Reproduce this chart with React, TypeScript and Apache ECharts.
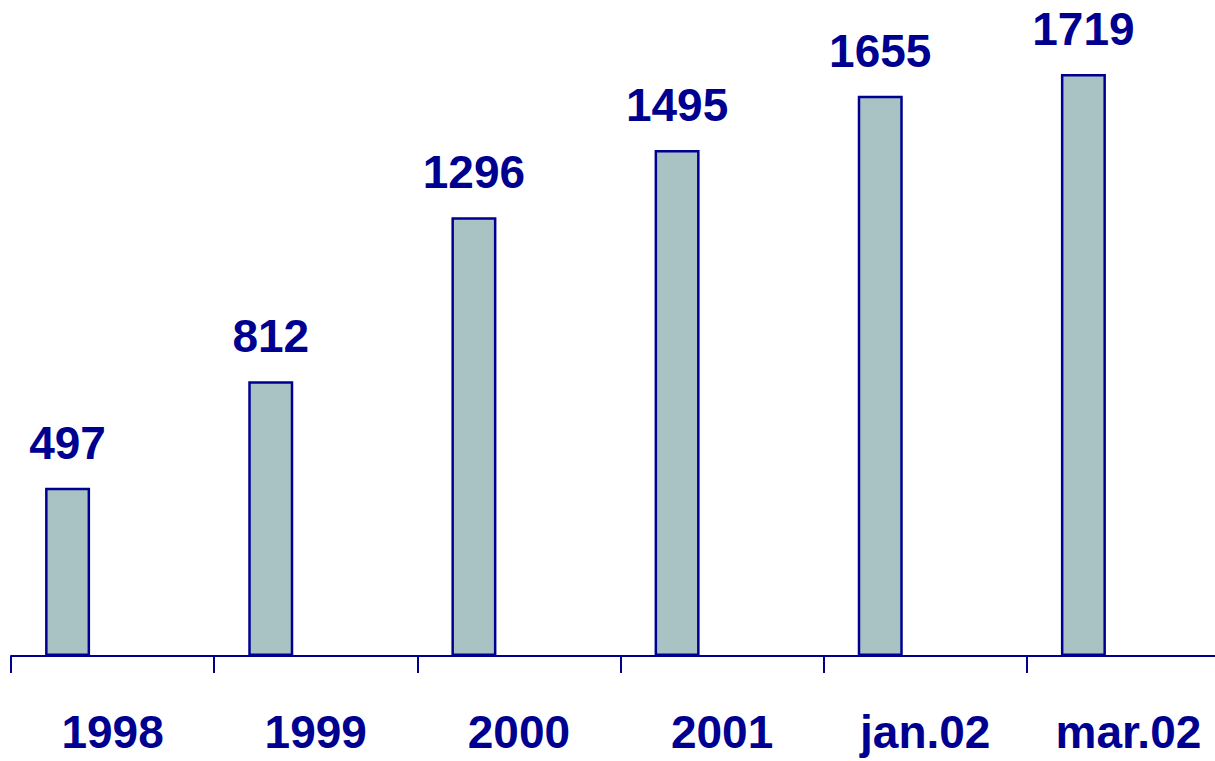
import React, { useEffect, useRef } from "react";
import * as echarts from "echarts";

const categories = ["1998", "1999", "2000", "2001", "jan.02", "mar.02"];
const values = [497, 812, 1296, 1495, 1655, 1719];
const emptyValues = [null, null, null, null, null, null];

const NAVY = "#000090";
const FILL = "#A9C2C4";

export default function App() {
  const ref = useRef<HTMLDivElement>(null);
  useEffect(() => {
    document.body.style.margin = "0";
    const chart = echarts.init(ref.current!, null, { renderer: "svg" });
    chart.setOption({
      animation: false,
      backgroundColor: "#ffffff",
      grid: {
        left: 11,
        right: -15,
        top: -21,
        bottom: 105,
        containLabel: false,
        outerBoundsMode: "none",
      },
      xAxis: {
        type: "category",
        data: categories,
        axisLine: { show: true, lineStyle: { color: NAVY, width: 2 } },
        axisTick: { show: true, length: 17, lineStyle: { color: NAVY, width: 2 } },
        axisLabel: {
          color: NAVY,
          fontFamily: "Liberation Sans, Arial, sans-serif",
          fontWeight: "bold",
          fontSize: 46,
          margin: 53,
        },
      },
      yAxis: {
        type: "value",
        min: 0,
        max: 2000,
        show: false,
        splitLine: { show: false },
      },
      series: [
        {
          type: "bar",
          data: values,
          barWidth: 45,
          barGap: "0%",
          itemStyle: { color: FILL, borderColor: NAVY, borderWidth: 2.5 },
          label: {
            show: true,
            position: "top",
            distance: 22,
            color: NAVY,
            fontFamily: "Liberation Sans, Arial, sans-serif",
            fontWeight: "bold",
            fontSize: 46,
          },
        },
        { type: "bar", data: emptyValues, barWidth: 45, barGap: "0%" },
        { type: "bar", data: emptyValues, barWidth: 45, barGap: "0%" },
      ],
    });
    return () => chart.dispose();
  }, []);
  return <div ref={ref} style={{ width: 1215, height: 761 }} />;
}
